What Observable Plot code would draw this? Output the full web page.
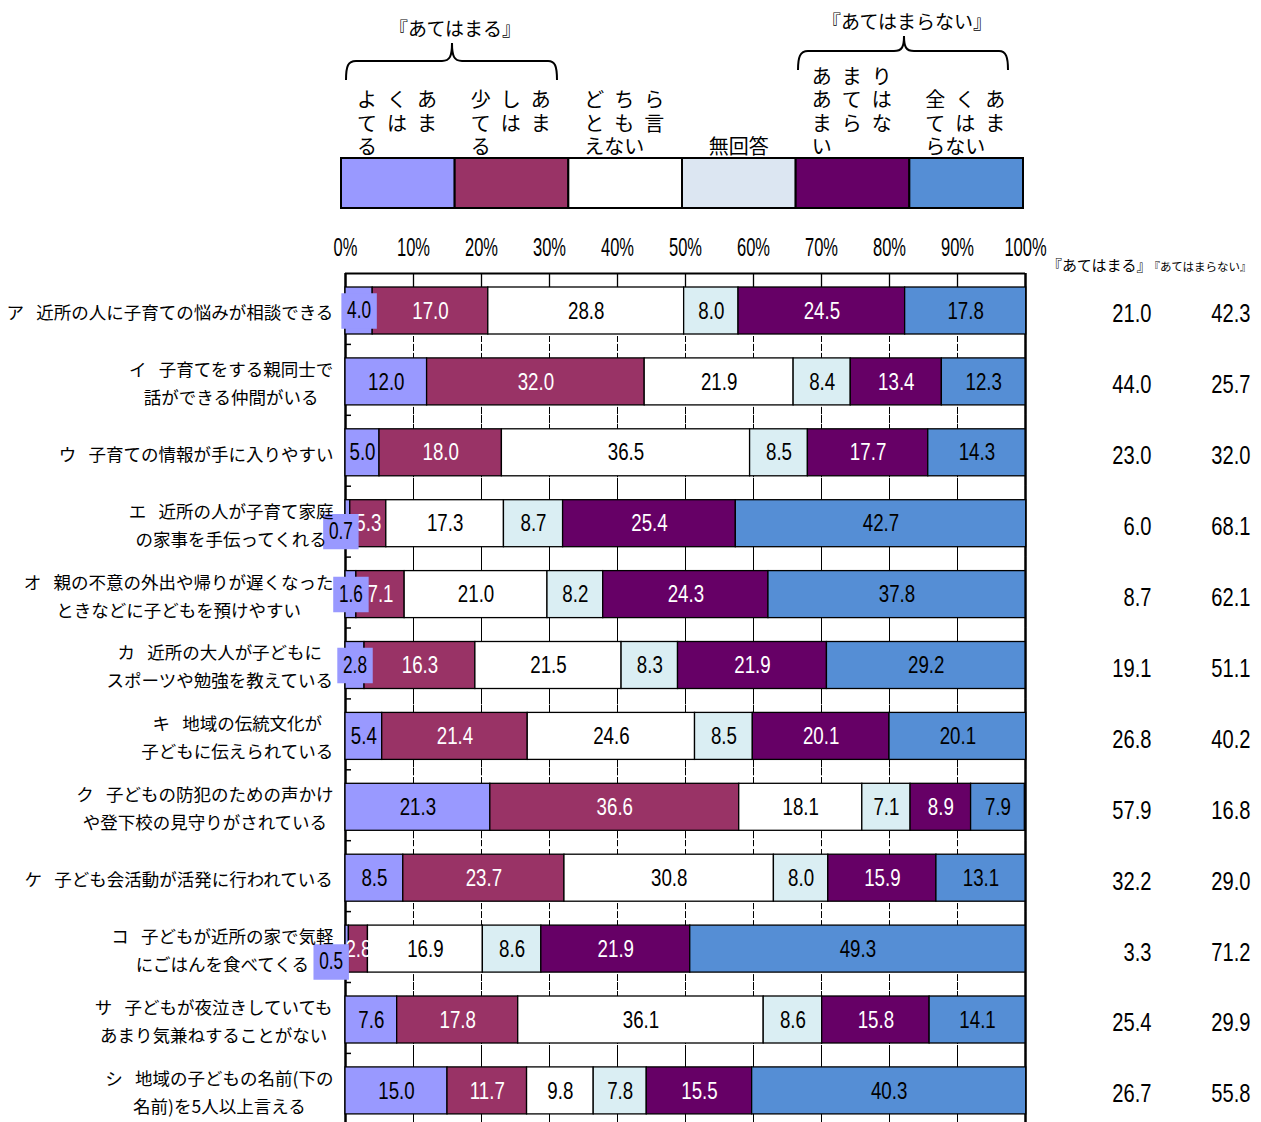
<!DOCTYPE html>
<html><head><meta charset="utf-8">
<script src="https://cdn.jsdelivr.net/npm/d3@7"></script>
<script src="https://cdn.jsdelivr.net/npm/@observablehq/plot@0.6"></script>
<style>
html,body{margin:0;padding:0;background:#fff;overflow:hidden;}
#wrap{width:1261px;}
svg{display:block;}
</style></head><body><div id="wrap"></div>
<script>
// ---------- data ----------
const categories = [
  "ア\u2002\u2009近所の人に子育ての悩みが相談できる",
  "イ\u2002\u2009子育てをする親同士で\n話ができる仲間がいる",
  "ウ\u2002\u2009子育ての情報が手に入りやすい",
  "エ\u2002\u2009近所の人が子育て家庭\nの家事を手伝ってくれる",
  "オ\u2002\u2009親の不意の外出や帰りが遅くなった\nときなどに子どもを預けやすい",
  "カ\u2002\u2009近所の大人が子どもに\nスポーツや勉強を教えている",
  "キ\u2002\u2009地域の伝統文化が\n子どもに伝えられている",
  "ク\u2002\u2009子どもの防犯のための声かけ\nや登下校の見守りがされている",
  "ケ\u2002\u2009子ども会活動が活発に行われている",
  "コ\u2002\u2009子どもが近所の家で気軽\nにごはんを食べてくる",
  "サ\u2002\u2009子どもが夜泣きしていても\nあまり気兼ねすることがない",
  "シ\u2002\u2009地域の子どもの名前(下の\n名前)を5人以上言える"
];
const series = ["よくあてはまる","少しあてはまる","どちらとも言えない","無回答","あまりあてはまらない","全くあてはまらない"];
const legendLines = [
  ["よくあ","てはま","る"],
  ["少しあ","てはま","る"],
  ["どちら","とも言","えない"],
  ["無回答"],
  ["あまり","あては","まらな","い"],
  ["全くあ","てはま","らない"]
];
const vYoku    = [4.0,12.0,5.0,0.7,1.6,2.8,5.4,21.3,8.5,0.5,7.6,15.0];
const vSukoshi = [17.0,32.0,18.0,5.3,7.1,16.3,21.4,36.6,23.7,2.8,17.8,11.7];
const vDochira = [28.8,21.9,36.5,17.3,21.0,21.5,24.6,18.1,30.8,16.9,36.1,9.8];
const vMukaito = [8.0,8.4,8.5,8.7,8.2,8.3,8.5,7.1,8.0,8.6,8.6,7.8];
const vAmari   = [24.5,13.4,17.7,25.4,24.3,21.9,20.1,8.9,15.9,21.9,15.8,15.5];
const vMattaku = [17.8,12.3,14.3,42.7,37.8,29.2,20.1,7.9,13.1,49.3,14.1,40.3];
const sumAtehamaru   = [21.0,44.0,23.0,6.0,8.7,19.1,26.8,57.9,32.2,3.3,25.4,26.7];
const sumAtehamaranai = [42.3,25.7,32.0,68.1,62.1,51.1,40.2,16.8,29.0,71.2,29.9,55.8];
const groupTitles = ["『あてはまる』","『あてはまらない』"];
const xTicks = [0,10,20,30,40,50,60,70,80,90,100];

// ---------- styles ----------
const barColors = ["#9999FF","#993366","#FFFFFF","#DAEEF3","#660066","#558ED5"];
const legendColors = ["#9999FF","#993366","#FFFFFF","#DCE6F2","#660066","#558ED5"];
const whiteText = new Set([series[1], series[4]]);
const JP = '"Noto Sans CJK JP", sans-serif';
const NUM = '"Liberation Sans", Arimo, sans-serif';
const boxNudge = {3: [-7, 8], 9: [-16, 13]}; // label-box nudges for tiny segments (row index)

const allValues = [vYoku, vSukoshi, vDochira, vMukaito, vAmari, vMattaku];
const long = [];
categories.forEach((c, i) => series.forEach((s, j) => long.push({cat: c, key: s, value: allValues[j][i], row: i})));
const fmt = v => v.toFixed(1);
const isSmall = d => d.key === series[0] && d.value < 4.5;

// horizontal squeeze of text glyphs (condensed look of the original)
const squeeze = k => (index, scales, values, dims, context, next) => {
  const g = next(index, scales, values, dims, context);
  if (g) d3.select(g).selectAll("text").each(function () {
    const t = this.getAttribute("transform") || "";
    this.setAttribute("transform", t + ` scale(${k},1)`);
  });
  return g;
};

// ---------- legend (above chart) ----------
const lg = d3.create("svg").attr("width", 1261).attr("height", 230)
  .attr("font-family", JP).attr("fill", "#000");
const bx = d3.scaleLinear([0, 6], [341, 1023]);
series.forEach((s, j) => {
  lg.append("rect").attr("x", bx(j)).attr("y", 158).attr("width", bx(j + 1) - bx(j)).attr("height", 50)
    .attr("fill", legendColors[j]).attr("stroke", "#000").attr("stroke-width", 2);
  const lines = legendLines[j];
  const t = lg.append("text").attr("font-size", 20);
  lines.forEach((ln, k) => {
    const y = 147 - (lines.length - 1 - k) * 23.5 + 7;
    if (lines.length === 1) {
      t.attr("text-anchor", "middle");
      t.append("tspan").attr("x", (bx(j) + bx(j + 1)) / 2).attr("y", y).text(ln);
    } else if (k < lines.length - 1) {
      [...ln].forEach((ch, c) => {
        t.append("tspan").attr("x", bx(j) + 16 + c * 30).attr("y", y).text(ch);
      });
    } else {
      t.append("tspan").attr("x", bx(j) + 16).attr("y", y).text(ln);
    }
  });
});
lg.append("path").attr("fill", "none").attr("stroke", "#000").attr("stroke-width", 2)
  .attr("d", "M346,80 C346,66 348,61 356,61 L442,61 C450,61 452,56 452,43 C452,56 454,61 462,61 L548,61 C555,61 557,66 557,80");
lg.append("path").attr("fill", "none").attr("stroke", "#000").attr("stroke-width", 2)
  .attr("d", "M798,70 C798,57 800,51 808,51 L894,51 C902,51 904,47 904,36 C904,47 906,51 914,51 L999,51 C1006,51 1008,57 1008,70");
lg.append("text").attr("x", 455).attr("y", 29).attr("dy", "0.35em").attr("text-anchor", "middle").attr("font-size", 19).text(groupTitles[0]);
lg.append("text").attr("x", 907).attr("y", 22).attr("dy", "0.35em").attr("text-anchor", "middle").attr("font-size", 19).text(groupTitles[1]);
document.getElementById("wrap").append(lg.node());

// ---------- main chart ----------
const step = 70.9, topM = 43, barTop = 14, barH = 47;
const labelFs = 17.5;
const ctx = document.createElement("canvas").getContext("2d");
ctx.font = `${labelFs}px "Noto Sans CJK JP"`;
const labelW = categories.map(c => d3.max(c.split("\n"), l => ctx.measureText(l).width));

const labelMarks = categories.map((c, i) => Plot.text([c], {
  y: d => d, text: d => d, frameAnchor: "left", textAnchor: "middle",
  dx: -12 - labelW[i] / 2, dy: 1, lineHeight: 1.6, fontSize: labelFs, fontFamily: JP, fill: "#000"
}));

const smallItems = long.filter(isSmall);
const boxMarks = smallItems.flatMap(d => {
  const [ndx, ndy] = boxNudge[d.row] || [0, 0];
  return [
    Plot.dot([d], Plot.stackX({x: "value", y: "cat", symbol: "square", r: 20, fill: barColors[0], stroke: "none", dx: ndx, dy: ndy + 2})),
    Plot.text([d], Plot.stackX({x: "value", y: "cat", text: d => fmt(d.value), fill: "#000", dx: ndx, dy: ndy + 2, fontSize: 23, fontFamily: NUM, render: squeeze(0.75)}))
  ];
});

const gridPairs = d3.cross(xTicks.slice(1, -1), categories);
const framePairs = d3.cross([0, 100], categories);

const chart = Plot.plot({
  width: 1261, height: 892,
  marginLeft: 345, marginRight: 236, marginTop: topM, marginBottom: 0,
  style: {background: "#fff", color: "#000"},
  x: {domain: [0, 100], axis: null},
  y: {domain: categories, type: "band", range: [topM, topM + step * categories.length], padding: 0, round: false, axis: null},
  color: {domain: series, range: barColors},
  marks: [
    Plot.ruleX(xTicks.slice(1, -1), {x: d => d, stroke: "#000", strokeWidth: 1, strokeDasharray: "6,3"}),
    Plot.ruleX([0, 100], {x: d => d, stroke: "#000", strokeWidth: 2}),
    Plot.tickX(gridPairs, {x: d => d[0], y: d => d[1], stroke: "#000", strokeWidth: 1, strokeDasharray: "6,3"}),
    Plot.tickX(xTicks.slice(1, -1), {x: d => d, y: () => categories[0], insetBottom: step - barTop, stroke: "#000", strokeWidth: 1.3}),
    Plot.tickX(framePairs, {x: d => d[0], y: d => d[1], stroke: "#000", strokeWidth: 2}),
    Plot.ruleY([categories[0]], {y: d => d, dy: -step / 2, stroke: "#000", strokeWidth: 2}),
    Plot.ruleY(categories.slice(1), {y: d => d, x1: 0, x2: 0, insetRight: -6, dy: -step / 2, stroke: "#000", strokeWidth: 1.5}),
    Plot.barX(long, {x: "value", y: "cat", fill: "key", stroke: "#000", strokeWidth: 1.3, insetTop: barTop, insetBottom: step - barTop - barH}),
    Plot.text(long, Plot.stackX({x: "value", y: "cat", text: d => (!whiteText.has(d.key) && !isSmall(d)) ? fmt(d.value) : null, fill: "#000", dy: 2, fontSize: 24, fontFamily: NUM, render: squeeze(0.78)})),
    Plot.text(long, Plot.stackX({x: "value", y: "cat", text: d => whiteText.has(d.key) ? fmt(d.value) : null, fill: "#fff", dy: 2, fontSize: 24, fontFamily: NUM, render: squeeze(0.78)})),
    ...boxMarks,
    ...labelMarks,
    Plot.text(categories, {y: d => d, text: (d, i) => fmt(sumAtehamaru[i]), frameAnchor: "right", textAnchor: "end", dx: 126, dy: 5, fontSize: 26.5, fontFamily: NUM, fill: "#000", render: squeeze(0.76)}),
    Plot.text(categories, {y: d => d, text: (d, i) => fmt(sumAtehamaranai[i]), frameAnchor: "right", textAnchor: "end", dx: 225, dy: 5, fontSize: 26.5, fontFamily: NUM, fill: "#000", render: squeeze(0.76)}),
    Plot.text([groupTitles[0]], {text: d => d, frameAnchor: "top-right", textAnchor: "end", dx: 126, dy: -13, fontSize: 15, fontFamily: JP, fill: "#000"}),
    Plot.text([groupTitles[1]], {text: d => d, frameAnchor: "top-right", textAnchor: "end", dx: 226, dy: -11, fontSize: 11.5, fontFamily: JP, fill: "#000"}),
    Plot.text(xTicks, {x: d => d, text: d => d + "%", frameAnchor: "top", lineAnchor: "middle", dy: -26, fontSize: 25, fontFamily: NUM, fill: "#000", render: squeeze(0.66)})
  ]
});
document.getElementById("wrap").append(chart);
</script></body></html>
